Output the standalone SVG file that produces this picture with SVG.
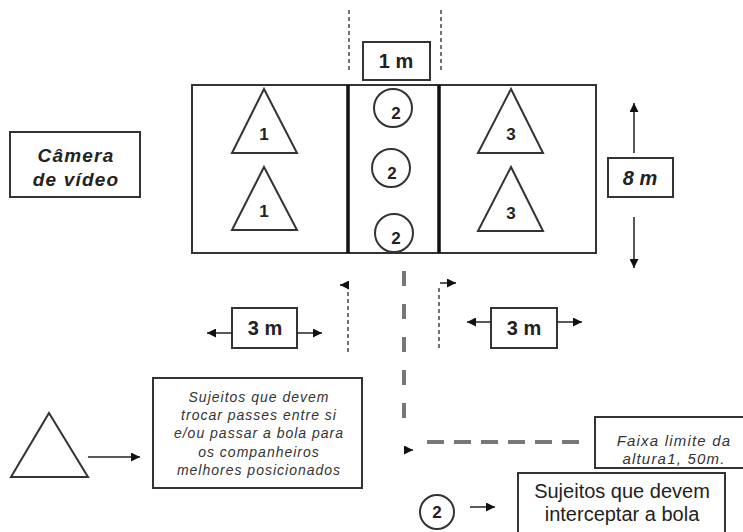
<svg xmlns="http://www.w3.org/2000/svg" width="743" height="532" viewBox="0 0 743 532">
<defs>
<marker id="ah" viewBox="0 0 10 10" refX="10" refY="5" markerWidth="10" markerHeight="9" markerUnits="userSpaceOnUse" orient="auto">
<path d="M0,0 L10,5 L0,10 z" fill="#111"/>
</marker>
</defs>
<style>
.box{fill:#fff;stroke:#333;stroke-width:2}
.shape{fill:#fff;stroke:#333;stroke-width:2}
.num{font-family:"Liberation Sans",Arial,sans-serif;font-weight:bold;font-size:17px;fill:#222;text-anchor:middle}
.lbl{font-family:"Liberation Sans",Arial,sans-serif;font-weight:bold;font-size:20px;fill:#222;text-anchor:middle}
.cam{font-family:"Liberation Sans",Arial,sans-serif;font-weight:bold;font-style:italic;font-size:19px;letter-spacing:1.2px;fill:#222;text-anchor:middle}
.it{font-family:"Liberation Sans",Arial,sans-serif;font-style:italic;font-size:14px;letter-spacing:1px;fill:#333;text-anchor:middle}
.it2{font-family:"Liberation Sans",Arial,sans-serif;font-style:italic;font-size:15px;letter-spacing:1.2px;fill:#333;text-anchor:middle}
.norm{font-family:"Liberation Sans",Arial,sans-serif;font-size:20px;fill:#222;text-anchor:middle}
.arr{stroke:#222;stroke-width:1.5;fill:none;marker-end:url(#ah)}
.dot{stroke:#444;stroke-width:1.5;fill:none;stroke-dasharray:4 3}
.dash{stroke:#777;stroke-width:4;fill:none}
.heavy{stroke:#111;stroke-width:3.5}
</style>
<g id="field">
<rect x="192" y="85" width="404" height="168" class="box"/>
<line x1="348" y1="85" x2="348" y2="253" class="heavy"/>
<line x1="439" y1="85" x2="439" y2="253" class="heavy"/>
</g>
<g id="tri1a"><path d="M264,89 L297,153 L232,153 z" class="shape"/><text x="264" y="140" class="num">1</text></g>
<g id="tri1b"><path d="M264,167 L297,230 L232,230 z" class="shape"/><text x="264" y="217" class="num">1</text></g>
<g id="tri3a"><path d="M511,89 L543,153 L478,153 z" class="shape"/><text x="511" y="140" class="num">3</text></g>
<g id="tri3b"><path d="M511,167 L543,231 L478,231 z" class="shape"/><text x="511" y="219" class="num">3</text></g>
<g id="circ2a"><circle cx="393" cy="108" r="19" class="shape"/><text x="396" y="119" class="num">2</text></g>
<g id="circ2b"><circle cx="391" cy="168" r="19" class="shape"/><text x="392" y="179" class="num">2</text></g>
<g id="circ2c"><circle cx="394" cy="233" r="19" class="shape"/><text x="396" y="244" class="num">2</text></g>
<g id="box1m"><rect x="363" y="42" width="67" height="38" class="box"/><text x="396" y="68" class="lbl">1 m</text></g>
<g id="box8m"><rect x="608" y="158" width="65" height="39" class="box"/><text x="640" y="185" class="lbl" font-style="italic">8 m</text></g>
<g id="camera"><rect x="10" y="132" width="130" height="65" class="box"/>
<text x="76" y="162" class="cam">Câmera</text>
<text x="76" y="186" class="cam">de vídeo</text></g>
<g id="box3mL"><rect x="232" y="308" width="65" height="40" class="box"/><text x="265" y="335" class="lbl">3 m</text></g>
<g id="box3mR"><rect x="491" y="308" width="66" height="40" class="box"/><text x="524" y="335" class="lbl">3 m</text></g>
<g id="legendTri"><path d="M49,413 L88,477 L11,477 z" class="shape"/></g>
<g id="legendTriText"><rect x="153" y="378" width="209" height="110" class="box"/>
<text class="it" x="259" y="402">Sujeitos que devem</text>
<text class="it" x="259" y="420">trocar passes entre si</text>
<text class="it" x="259" y="438">e/ou passar a bola para</text>
<text class="it" x="259" y="457">os companheiros</text>
<text class="it" x="259" y="475">melhores posicionados</text></g>
<g id="faixa"><rect x="595" y="417" width="160" height="51" class="box"/>
<text class="it2" x="674" y="446">Faixa limite da</text>
<text class="it2" x="674" y="464">altura1, 50m.</text></g>
<g id="legendCirc"><circle cx="437" cy="512" r="17" class="shape"/><text x="437" y="518" class="num">2</text></g>
<g id="interceptar"><rect x="518" y="473" width="207" height="70" class="box"/>
<text class="norm" x="622" y="498">Sujeitos que devem</text>
<text class="norm" x="622" y="521">interceptar a bola</text></g>
<g id="connectors">
<line x1="349" y1="10" x2="349" y2="72" class="dot"/>
<line x1="441" y1="10" x2="441" y2="72" class="dot"/>
<line x1="634" y1="153" x2="634" y2="103" class="arr"/>
<line x1="634" y1="217" x2="634" y2="268" class="arr"/>
<line x1="232" y1="333" x2="207" y2="333" class="arr"/>
<line x1="297" y1="333" x2="322" y2="333" class="arr"/>
<line x1="491" y1="322" x2="467" y2="322" class="arr"/>
<line x1="557" y1="322" x2="582" y2="322" class="arr"/>
<path d="M348,352 L348,285" class="dot" stroke-width="1" stroke-dasharray="2 1"/>
<line x1="349" y1="285" x2="340" y2="285" class="arr"/>
<path d="M439,348 L439,287" class="dot" stroke-dasharray="3 3"/>
<line x1="440" y1="283" x2="456" y2="283" class="arr"/>
<line x1="404" y1="271" x2="404" y2="432" class="dash" stroke-dasharray="15 18"/>
<line x1="427" y1="442" x2="584" y2="442" class="dash" stroke-dasharray="17 10"/>
<line x1="404" y1="450" x2="413" y2="450" class="arr"/>
<line x1="88" y1="457" x2="140" y2="457" class="arr"/>
<line x1="470" y1="507" x2="495" y2="507" class="arr"/>
</g>
</svg>
